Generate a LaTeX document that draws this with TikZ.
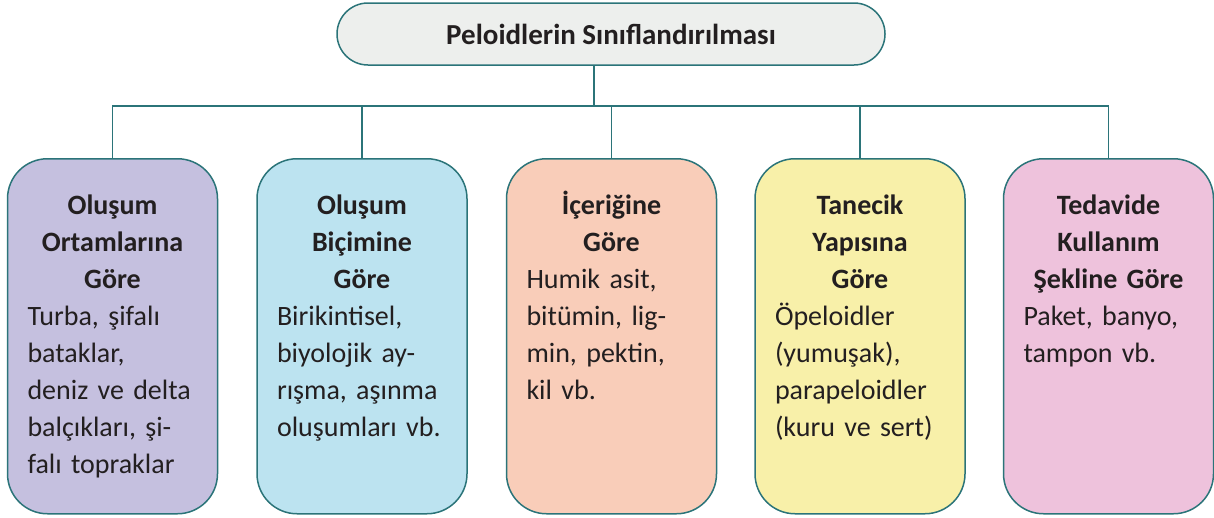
\documentclass[tikz,border=0pt]{standalone}
\usepackage{fontspec}
\setmainfont{Carlito}
\usetikzlibrary{positioning}

\definecolor{cizgi}{HTML}{2B7479}
\definecolor{yazirengi}{HTML}{231F20}
\definecolor{gri}{HTML}{EDEFED}
\definecolor{mor}{HTML}{C5C0DF}
\definecolor{mavi}{HTML}{BCE3F0}
\definecolor{somon}{HTML}{F9CDB9}
\definecolor{sari}{HTML}{F8F0A9}
\definecolor{pembe}{HTML}{EEC2DC}

\tikzset{
  ustkutu/.style={draw=cizgi, fill=gri, line width=1.5pt, rounded corners=31pt,
    minimum width=548pt, minimum height=62pt, inner sep=0pt,
    font=\fontsize{29}{37}\selectfont\bfseries, text=yazirengi},
  kutu/.style={draw=cizgi, line width=1.5pt, rounded corners=40pt,
    minimum width=210pt, minimum height=355pt, anchor=north, inner sep=0pt},
  yazi/.style={anchor=north, text width=170pt, inner sep=0pt, align=left,
    font=\fontsize{28}{37}\selectfont, text=yazirengi},
  baglanti/.style={draw=cizgi, line width=1.5pt}
}

\begin{document}
\begin{tikzpicture}[x=1pt,y=-1pt]
  \useasboundingbox (0,0) rectangle (1214,517);

  % ana baslik
  \node[ustkutu] (baslik) at (611,34) {Peloidlerin Sınıflandırılması};

  % alt kutular
  \node[kutu, fill=mor]   (kutu1) at (112.5,158) {};
  \node[kutu, fill=mavi]  (kutu2) at (362,158) {};
  \node[kutu, fill=somon] (kutu3) at (611.5,158) {};
  \node[kutu, fill=sari]  (kutu4) at (860,158) {};
  \node[kutu, fill=pembe] (kutu5) at (1108.5,158) {};

  % kutu yazilari
  \node[yazi] (yazi1) at ([yshift=-30pt]kutu1.north) {{\centering\bfseries\strut Oluşum\\ Ortamlarına\\ Göre\par}
    Turba, şifalı\\ bataklar,\\ deniz ve delta\\ balçıkları, şi-\\ falı topraklar};
  \node[yazi] (yazi2) at ([yshift=-30pt]kutu2.north) {{\centering\bfseries\strut Oluşum\\ Biçimine\\ Göre\par}
    Birikintisel,\\ biyolojik ay-\\ rışma, aşınma\\ oluşumları vb.};
  \node[yazi] (yazi3) at ([yshift=-30pt]kutu3.north) {{\centering\bfseries\strut İçeriğine\\ Göre\par}
    Humik asit,\\ bitümin, lig-\\ min, pektin,\\ kil vb.};
  \node[yazi] (yazi4) at ([yshift=-30pt]kutu4.north) {{\centering\bfseries\strut Tanecik\\ Yapısına\\ Göre\par}
    Öpeloidler\\ (yumuşak),\\ parapeloidler\\ (kuru ve sert)};
  \node[yazi] (yazi5) at ([yshift=-30pt]kutu5.north) {{\centering\bfseries\strut Tedavide\\ Kullanım\\ Şekline Göre\par}
    Paket, banyo,\\ tampon vb.};

  % baglantilar
  \coordinate (dal) at (594,106);
  \draw[baglanti] (baslik.south -| dal) -- (dal);
  \draw[baglanti] (kutu1.north) -- (kutu1.north |- dal) -- (kutu5.north |- dal) -- (kutu5.north);
  \foreach \i in {2,3,4}
    \draw[baglanti] (kutu\i.north) -- (kutu\i.north |- dal);
\end{tikzpicture}
\end{document}
